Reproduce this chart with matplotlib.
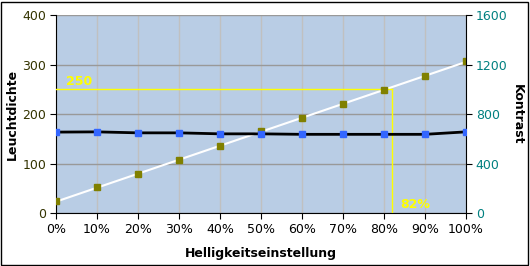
import numpy as np
import matplotlib.pyplot as plt
import matplotlib.patches as patches
from matplotlib.ticker import FuncFormatter

# Helligkeitseinstellung in %
helligkeit = [0, 10, 20, 30, 40, 50, 60, 70, 80, 90, 100]
# Leuchtdichte (linke Achse)
leuchtdichte = [24, 52, 79, 107, 135, 165, 192, 220, 248, 277, 307]
# Kontrast (rechte Achse)
kontrast = [654, 656, 648, 648, 640, 640, 636, 636, 636, 636, 656]

ziel_wert = 250
ziel_prozent = 82

fig = plt.figure(figsize=(5.3, 2.66), dpi=100)
fig.patches.append(patches.Rectangle((0.002, 0.004), 0.995, 0.99, transform=fig.transFigure,
                                     fill=False, edgecolor="black", linewidth=1))
ax = fig.add_axes([0.1057, 0.199, 0.7735, 0.7446])
ax.set_facecolor("#B9CDE5")
ax2 = ax.twinx()

# trend line for Leuchtdichte
k, d = np.polyfit(helligkeit, leuchtdichte, 1)
xs = np.array([0, 100])
ax.plot(xs, k * xs + d, color="white", linewidth=1.5, zorder=3)
ax.plot(helligkeit, leuchtdichte, "s", color="#808000", markersize=5, zorder=5)

# Kontrast
ax2.plot(helligkeit, kontrast, color="black", linewidth=2, zorder=3)
ax2.plot(helligkeit, kontrast, "s", color="#3366FF", markersize=5, zorder=5)

# yellow marker lines
ax.plot([0, ziel_prozent], [ziel_wert, ziel_wert], color="yellow", linewidth=1, zorder=4)
ax.plot([ziel_prozent, ziel_prozent], [0, ziel_wert], color="yellow", linewidth=1, zorder=4)
ax.text(2.5, ziel_wert + 3, str(ziel_wert), color="yellow", fontsize=9, fontweight="bold",
        va="bottom", zorder=6)
ax.text(ziel_prozent + 2, 5, "%d%%" % ziel_prozent, color="yellow", fontsize=9,
        fontweight="bold", va="bottom", zorder=6)

ax.set_xlim(0, 100)
ax.set_ylim(0, 400)
ax2.set_ylim(0, 1600)
ax.set_xticks(helligkeit)
ax.xaxis.set_major_formatter(FuncFormatter(lambda v, p: "%d%%" % v))
ax.set_yticks([0, 100, 200, 300, 400])
ax2.set_yticks([0, 400, 800, 1200, 1600])

ax.grid(axis="x", color="#C0C0C0", linewidth=1)
ax.grid(axis="y", color="#999999", linewidth=1)
ax.set_axisbelow(True)

for a in (ax, ax2):
    a.spines["top"].set_visible(False)
ax.spines["right"].set_visible(False)
ax2.spines["left"].set_visible(False)
ax2.spines["bottom"].set_visible(False)

ax.tick_params(axis="x", length=4, labelsize=9, colors="black", pad=3)
ax.tick_params(axis="y", length=4, labelsize=9, labelcolor="#333300", pad=3)
ax2.tick_params(axis="y", length=4, labelsize=9, labelcolor="#008080", pad=3)

ax.set_xlabel("Helligkeitseinstellung", fontsize=9, fontweight="bold")
ax.set_ylabel("Leuchtdichte", fontsize=9, fontweight="bold")
ax2.set_ylabel("Kontrast", fontsize=9, fontweight="bold", rotation=270, va="center")
ax.xaxis.set_label_coords(0.5, -0.17)
ax.yaxis.set_label_coords(-0.09, 0.5)
ax2.yaxis.set_label_coords(1.125, 0.5)

fig.savefig("out.png", dpi=100)
